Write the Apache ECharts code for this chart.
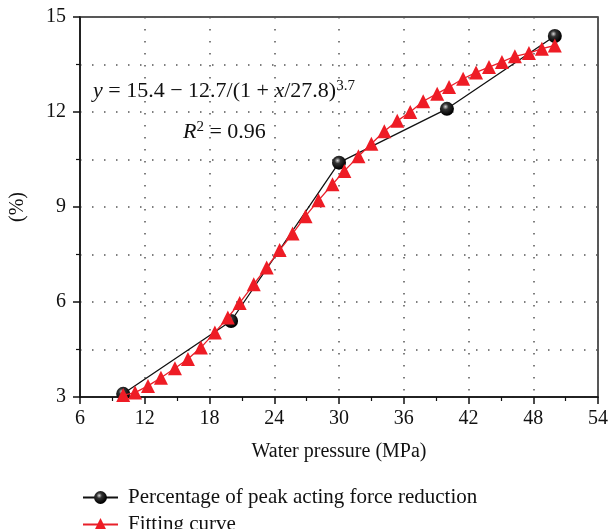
<!DOCTYPE html>
<html>
<head>
<meta charset="utf-8">
<script src="https://cdn.jsdelivr.net/npm/echarts@6/dist/echarts.min.js"></script>
<style>
html,body{margin:0;padding:0;background:#fff;}
#chart{width:611px;height:529px;}
</style>
</head>
<body>
<div id="chart"></div>
<script>
// Measured data (percentage of peak acting force reduction)
const pressure = [10, 20, 30, 40, 50];
const reduction = [3.1, 5.4, 10.4, 12.1, 14.4];

// Fitting curve points
const fitX = [10.0, 11.1, 12.3, 13.5, 14.8, 16.0, 17.2, 18.5, 19.7, 20.8, 22.1, 23.3, 24.5, 25.7, 26.9, 28.1, 29.4, 30.5, 31.8, 33.0, 34.2, 35.4, 36.6, 37.8, 39.1, 40.2, 41.5, 42.7, 43.9, 45.1, 46.3, 47.6, 48.8, 50.0];
const fitY = [3.06, 3.14, 3.35, 3.61, 3.91, 4.20, 4.56, 5.04, 5.51, 5.97, 6.56, 7.09, 7.64, 8.16, 8.71, 9.21, 9.72, 10.14, 10.60, 11.00, 11.39, 11.72, 12.00, 12.34, 12.58, 12.79, 13.05, 13.25, 13.42, 13.58, 13.76, 13.86, 14.00, 14.10];

const xTicks = {min: 6, max: 54, interval: 6};
const yTicks = {min: 3, max: 15, interval: 3};

const seriesNames = ['Percentage of peak acting force reduction', 'Fitting curve'];
const xName = 'Water pressure (MPa)';
const yName = '(%)';

const FONT = 'Liberation Serif';
const dotted = {color: '#555', width: 1.5, type: [1.5, 10.5]};

const legendBase = {
  orient: 'horizontal', left: 77, itemWidth: 35, itemHeight: 16,
  textStyle: {fontFamily: FONT, fontSize: 21, color: '#111', padding: [0, 0, 0, 5]}
};

const chart = echarts.init(document.getElementById('chart'));
chart.setOption({
  animation: false,
  backgroundColor: '#fff',
  textStyle: {fontFamily: FONT, color: '#111'},
  grid: {left: 80, right: 11, top: 17, bottom: 132, show: true, borderColor: '#222', borderWidth: 1.5, backgroundColor: 'transparent'},
  xAxis: {
    type: 'value', min: xTicks.min, max: xTicks.max, interval: xTicks.interval,
    name: xName, nameLocation: 'middle', nameGap: 45,
    nameTextStyle: {fontFamily: FONT, fontSize: 20, color: '#111'},
    axisLine: {onZero: false, lineStyle: {color: '#111', width: 1.5}},
    axisTick: {show: true, inside: false, length: 7, lineStyle: {color: '#111', width: 1.5}},
    minorTick: {show: true, splitNumber: 2, length: 4, lineStyle: {color: '#111', width: 1.2}},
    axisLabel: {fontFamily: FONT, fontSize: 20, color: '#111', margin: 12},
    splitLine: {show: true, lineStyle: dotted}
  },
  yAxis: {
    type: 'value', min: yTicks.min, max: yTicks.max, interval: yTicks.interval,
    name: yName, nameLocation: 'middle', nameGap: 52, nameRotate: 90,
    nameTextStyle: {fontFamily: FONT, fontSize: 20, color: '#111'},
    axisLine: {show: true, onZero: false, lineStyle: {color: '#111', width: 1.5}},
    axisTick: {show: true, inside: false, length: 7, lineStyle: {color: '#111', width: 1.5}},
    minorTick: {show: true, splitNumber: 2, length: 4, lineStyle: {color: '#111', width: 1.2}},
    axisLabel: {fontFamily: FONT, fontSize: 20, color: '#111', margin: 14},
    splitLine: {show: true, lineStyle: dotted},
    minorSplitLine: {show: true, lineStyle: dotted}
  },
  legend: [
    Object.assign({}, legendBase, {top: 482, data: [seriesNames[0]]}),
    Object.assign({}, legendBase, {top: 509, data: [seriesNames[1]]})
  ],
  series: [
    {
      name: seriesNames[0], type: 'line',
      data: pressure.map((x, i) => [x, reduction[i]]),
      symbol: 'circle', symbolSize: 14,
      lineStyle: {color: '#111', width: 1.3},
      itemStyle: {
        color: {type: 'radial', x: 0.4, y: 0.35, r: 0.6,
          colorStops: [{offset: 0, color: '#d8d8d8'}, {offset: 0.35, color: '#333'}, {offset: 1, color: '#000'}]},
        borderWidth: 0
      },
      z: 2
    },
    {
      name: seriesNames[1], type: 'line',
      data: fitX.map((x, i) => [x, fitY[i]]),
      symbol: 'triangle', symbolSize: 14,
      lineStyle: {color: '#e8202a', width: 1.3},
      itemStyle: {color: '#ee1c25', borderWidth: 0},
      z: 3
    }
  ],
  graphic: [
    {
      type: 'text', left: 93, top: 79,
      style: {
        text: '{i|y} = 15.4 − 12.7/(1 + {i|x}/27.8){s|3.7}',
        font: '22px ' + FONT, fill: '#111',
        rich: {
          i: {fontFamily: FONT, fontSize: 22, fontStyle: 'italic', fill: '#111'},
          s: {fontFamily: FONT, fontSize: 15, fill: '#111', verticalAlign: 'top', padding: [0, 0, 10, 0]}
        }
      }
    },
    {
      type: 'text', left: 183, top: 120,
      style: {
        text: '{i|R}{s|2} = 0.96',
        font: '22px ' + FONT, fill: '#111',
        rich: {
          i: {fontFamily: FONT, fontSize: 22, fontStyle: 'italic', fill: '#111'},
          s: {fontFamily: FONT, fontSize: 15, fill: '#111', verticalAlign: 'top', padding: [0, 0, 10, 0]}
        }
      }
    }
  ]
});
</script>
</body>
</html>
